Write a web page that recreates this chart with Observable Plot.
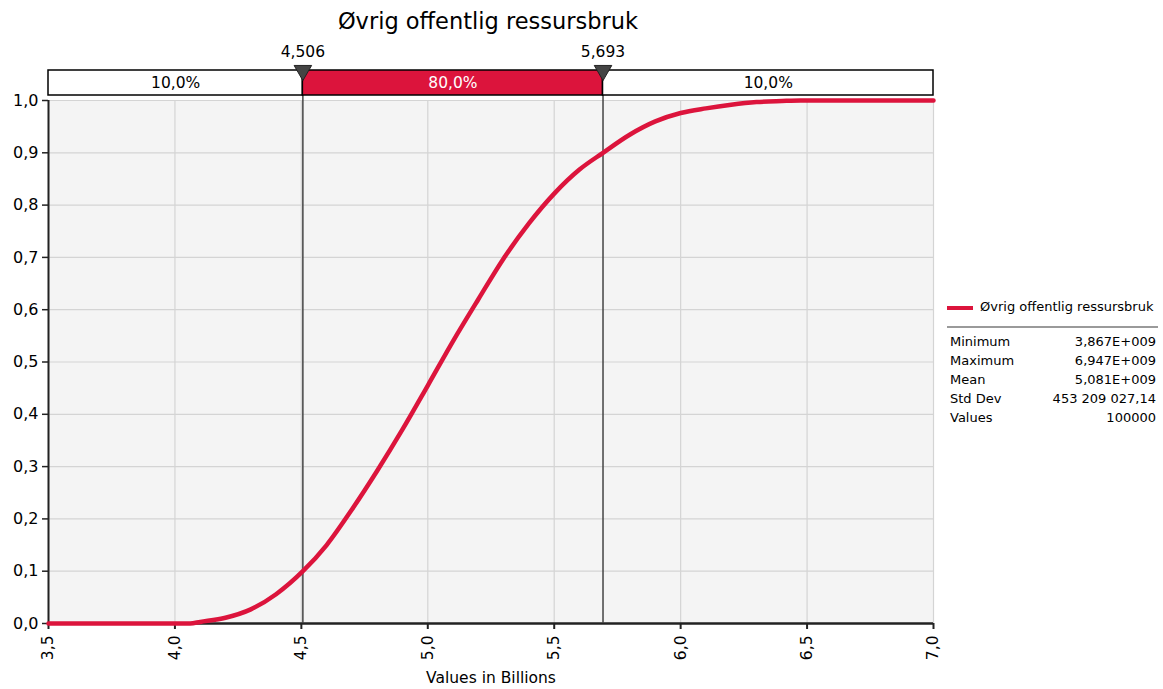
<!DOCTYPE html>
<html>
<head>
<meta charset="utf-8">
<script src="https://cdn.jsdelivr.net/npm/d3@7"></script>
<script src="https://cdn.jsdelivr.net/npm/@observablehq/plot@0.6"></script>
<style>
  body { margin: 0; background: #fff; font-family: "DejaVu Sans", Verdana, sans-serif; }
  #wrap { position: relative; width: 1163px; height: 689px; overflow: hidden; }
  #title { position: absolute; left: 0; width: 976px; top: 8px; text-align: center; font-size: 22.5px; color: #000; }
  .lg { position: absolute; font-size: 13px; color: #000; white-space: nowrap; }
</style>
</head>
<body>
<div id="wrap">
  <div id="title">Øvrig offentlig ressursbruk</div>
  <div id="chart"></div>
  <div id="legend"></div>
</div>
<script>
// ---- data ----
const seriesName = "Øvrig offentlig ressursbruk";
const xValues = [3.5, 4.0, 4.06, 4.1, 4.2, 4.3, 4.4, 4.506, 4.6, 4.7, 4.8, 4.9, 5.0, 5.1, 5.2, 5.3, 5.4, 5.5, 5.6, 5.693, 5.8, 5.9, 6.0, 6.1, 6.2, 6.3, 6.4, 6.474, 7.0];
const cdfValues = [0, 0, 0, 0.003, 0.011, 0.027, 0.056, 0.1, 0.15, 0.218, 0.292, 0.371, 0.455, 0.54, 0.62, 0.698, 0.765, 0.822, 0.868, 0.9, 0.935, 0.96, 0.976, 0.985, 0.992, 0.997, 0.999, 1.0, 1.0];
const markerValues = [4.506, 5.693];
const markerLabels = ["4,506", "5,693"];
const bandLabels = ["10,0%", "80,0%", "10,0%"];
const xTicks = [3.5, 4.0, 4.5, 5.0, 5.5, 6.0, 6.5, 7.0];
const yTicks = [0, 0.1, 0.2, 0.3, 0.4, 0.5, 0.6, 0.7, 0.8, 0.9, 1.0];
const statLabels = ["Minimum", "Maximum", "Mean", "Std Dev", "Values"];
const statValues = ["3,867E+009", "6,947E+009", "5,081E+009", "453 209 027,14", "100000"];

// ---- layout ----
const W = 1163, H = 689;
const mL = 48, mR = 230, mT = 100, mB = 66;
const xDom = [3.5, 7.0], yDom = [0, 1];
const plotBottom = H - mB, plotTop = mT;
// convert a pixel row into a y-scale value (for marks placed above the frame)
const yAt = px => yDom[0] + (plotBottom - px) / (plotBottom - plotTop) * (yDom[1] - yDom[0]);
const bandTop = yAt(70), bandBot = yAt(95);

const red = "#dc143c";
const fmt = d => d.toFixed(1).replace(".", ",");

const curve = xValues.map((x, i) => ({x, y: cdfValues[i]}));
const edges = [xDom[0], ...markerValues, xDom[1]];
const bands = bandLabels.map((label, i) => ({x1: edges[i], x2: edges[i + 1], label, mid: (edges[i] + edges[i + 1]) / 2, fill: i === 1 ? red : "#fff", color: i === 1 ? "#fff" : "#000"}));
const markers = markerValues.map((v, i) => ({v, label: markerLabels[i]}));

const plot = Plot.plot({
  width: W, height: H,
  marginLeft: mL, marginRight: mR, marginTop: mT, marginBottom: mB,
  style: {fontFamily: "'DejaVu Sans', Verdana, sans-serif", fontSize: "15px", color: "#000", background: "transparent", overflow: "visible"},
  x: {domain: xDom, ticks: xTicks},
  y: {domain: yDom, ticks: yTicks},
  marks: [
    Plot.frame({fill: "#f4f4f4", stroke: null}),
    Plot.gridX(xTicks, {stroke: "#d4d4d4", strokeOpacity: 1, strokeWidth: 1.2}),
    Plot.gridY(yTicks, {stroke: "#d4d4d4", strokeOpacity: 1, strokeWidth: 1.2}),
    Plot.axisX({ticks: xTicks, tickFormat: fmt, tickSize: 6, tickRotate: -90, tickPadding: 6, stroke: "#222", strokeWidth: 2,
      label: "Values in Billions", labelAnchor: "center", labelArrow: "none", labelOffset: 59, fontSize: 15.5}),
    Plot.axisY({ticks: yTicks, tickFormat: fmt, tickSize: 6, tickPadding: 4, stroke: "#222", strokeWidth: 1.5, label: null, fontSize: 16}),
    Plot.ruleX([xDom[0]], {y1: yDom[0], y2: yDom[1], stroke: "#222", strokeWidth: 2}),
    Plot.ruleY([yDom[0]], {x1: xDom[0], x2: xDom[1], stroke: "#222", strokeWidth: 2.5}),
    Plot.ruleX(markerValues, {y1: yDom[0], y2: bandTop, stroke: "#444", strokeWidth: 1.5}),
    Plot.line(curve, {x: "x", y: "y", stroke: red, strokeWidth: 4.5, curve: "monotone-x"}),
    Plot.rect(bands, {x1: "x1", x2: "x2", y1: bandBot, y2: bandTop, fill: "fill", stroke: "#000", strokeWidth: 1.5}),
    Plot.text(bands, {x: "mid", y: yAt(82.5), text: "label", fill: "color", fontSize: 15.5}),
    Plot.dot(markers, {x: "v", y: yAt(70), symbol: "triangle", r: 6.5, rotate: 180, fill: "#444", stroke: "#222", strokeWidth: 1}),
    Plot.text(markers, {x: "v", y: yAt(52), text: "label", fontSize: 15.5, fill: "#000"})
  ]
});
document.getElementById("chart").appendChild(plot);

// ---- legend ----
const lg = document.getElementById("legend");
const add = (html, css) => { const d = document.createElement("div"); d.className = "lg"; d.innerHTML = html; Object.assign(d.style, css); lg.appendChild(d); return d; };
add("", {left: "947px", top: "306px", width: "26px", height: "4px", background: red});
add(seriesName, {left: "980px", top: "299px"});
add("", {left: "947px", top: "326px", width: "211px", height: "1.5px", background: "#9a9a9a"});
statLabels.forEach((s, i) => {
  add(s, {left: "950px", top: (334 + i * 19) + "px"});
  add(statValues[i], {right: (1163 - 1156) + "px", top: (334 + i * 19) + "px", textAlign: "right"});
});
</script>
</body>
</html>
